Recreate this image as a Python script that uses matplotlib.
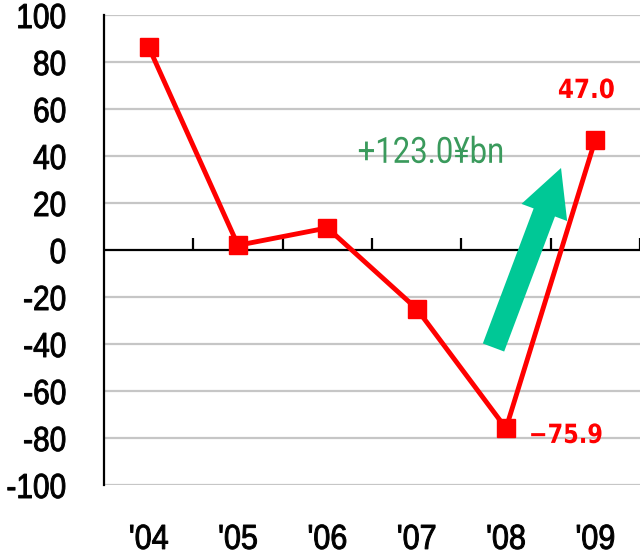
import matplotlib
matplotlib.use("Agg")
import matplotlib.pyplot as plt
from matplotlib.patches import FancyArrowPatch
from matplotlib.patheffects import AbstractPathEffect
from matplotlib.transforms import Affine2D
import matplotlib.transforms as mtransforms

years = ["'04", "'05", "'06", "'07", "'08", "'09"]
values = [86.4, 2.0, 9.4, -25.0, -75.9, 47.0]
yticks = [100, 80, 60, 40, 20, 0, -20, -40, -60, -80, -100]
annot_text = "+123.0\u00a5bn"


class HScale(AbstractPathEffect):
    """Horizontally condense text around an anchor, optionally embolden."""
    def __init__(self, sx, anchor='center', stroke=0.0):
        super().__init__()
        self.sx = sx
        self.anchor = anchor
        self.stroke = stroke

    def draw_path(self, renderer, gc, tpath, affine, rgbFace=None):
        ext = tpath.get_extents()
        if self.anchor == 'right':
            cx = ext.x1
        elif self.anchor == 'left':
            cx = ext.x0
        else:
            cx = (ext.x0 + ext.x1) / 2
        t = Affine2D().translate(-cx, 0).scale(self.sx, 1).translate(cx, 0) + affine
        gc0 = renderer.new_gc()
        gc0.copy_properties(gc)
        if self.stroke > 0 and rgbFace is not None:
            gc0.set_linewidth(self.stroke)
            gc0.set_foreground(rgbFace)
            gc0.set_joinstyle('round')
        else:
            gc0.set_linewidth(0)
        renderer.draw_path(gc0, tpath, t, rgbFace)
        gc0.restore()


fig = plt.figure(figsize=(6.4, 5.52), dpi=100)
ax = fig.add_axes([0.1625, 0.1214, 0.8375, 0.8514])

num_family = ['Liberation Sans', 'DejaVu Sans']

x = list(range(len(years)))
ax.set_xlim(-0.5, len(years) - 0.5)
ax.set_ylim(-100, 100)

for yt in yticks:
    if yt != 0:
        ax.axhline(yt, color='#c6c6c6', lw=1.6, zorder=1)
ax.axhline(0, color='black', lw=1.6, zorder=2)

ax.plot(x, values, color='#ff0000', lw=3.5, marker='s', markersize=13,
        markeredgecolor='#ff0000', zorder=4, clip_on=False)

for s in ['top', 'right', 'bottom']:
    ax.spines[s].set_visible(False)
ax.spines['left'].set_linewidth(1.6)
ax.spines['left'].set_zorder(3)

ax.set_yticks(yticks)
ax.set_yticklabels([str(v) for v in yticks], fontsize=25, family=num_family)
ax.tick_params(axis='y', length=0, pad=27)
for lab in ax.get_yticklabels():
    lab.set_path_effects([HScale(0.86, 'right', stroke=0.7)])
ax.set_xticks([])

# boundary tick marks on zero line
for i in range(len(years)):
    ax.plot([i + 0.5, i + 0.5], [0, 5.1], color='black', lw=1.6, zorder=2,
            clip_on=False, solid_capstyle='butt')

trans = mtransforms.blended_transform_factory(ax.transData, ax.transAxes)
for i, lab in enumerate(years):
    t = ax.text(i, -0.136, lab, transform=trans, ha='center', va='baseline',
                fontsize=25, family=num_family)
    t.set_path_effects([HScale(0.88, 'center', stroke=0.7)])

# annotations
t1 = ax.text(4.90, 64.7, f"{values[5]:.1f}", color='#ff0000', fontsize=19,
             fontweight='bold', ha='center', va='baseline', family=['DejaVu Sans'])
t1.set_path_effects([HScale(0.875, 'center')])
t2 = ax.text(4.67, -82.1, f"\u2212{abs(values[4]):.1f}", color='#ff0000', fontsize=19,
             fontweight='bold', ha='center', va='baseline', family=['DejaVu Sans'])
t2.set_path_effects([HScale(0.85, 'center')])
t3 = ax.text(3.16, 37.1, annot_text, color='#3a9a5c', fontsize=26, ha='center',
             va='baseline', family=['Roboto', 'DejaVu Sans'])
t3.set_path_effects([HScale(0.86, 'center')])

ms = 10
arrow = FancyArrowPatch((3.86, -41.5), (4.616, 34.9),
                        arrowstyle=f'simple,head_length={47.5/13.89:.3f},'
                                   f'head_width={48.8/13.89:.3f},tail_width={22.8/13.89:.3f}',
                        mutation_scale=ms, color='#00c896', lw=0, zorder=3,
                        shrinkA=0, shrinkB=0)
ax.add_patch(arrow)

fig.savefig('out.png', dpi=100)
